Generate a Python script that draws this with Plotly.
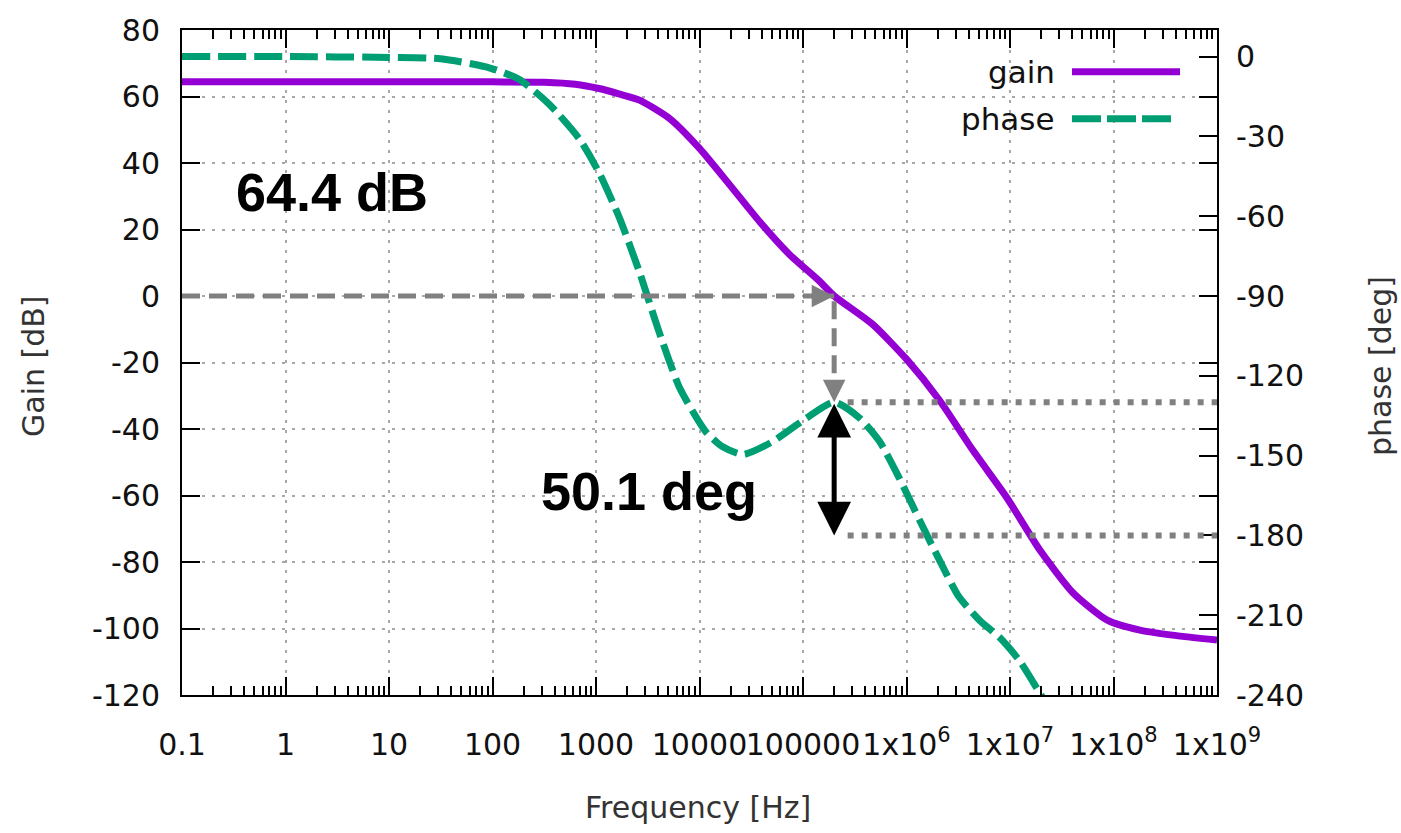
import math
import plotly.graph_objects as go

# ---- open-loop response of the amplifier ----
gain_freq = [0.1, 1, 10, 100, 316, 631, 1070, 1660, 2630, 5130, 1.0e4, 1.95e4,
             3.8e4, 7.4e4, 1.45e5, 2.0e5, 4.7e5, 1.0e6, 2.1e6, 4.4e6, 9.3e6,
             1.95e7, 4.1e7, 8.7e7, 1.8e8, 3.7e8, 1.0e9]
gain_db = [64.4, 64.4, 64.4, 64.4, 64.3, 63.7, 62.4, 60.8, 58.9, 53.4, 44.4, 33.5,
           22.4, 12.5, 4.4, 0.0, -8.5, -19.0, -31.5, -46.5, -60.6,
           -76.5, -89.4, -97.5, -100.5, -102.0, -103.5]

phase_freq = [0.1, 1, 10, 31.6, 93, 182, 355, 692, 1070, 1700, 2630, 4070, 6460,
              1.15e4, 1.66e4, 2.63e4, 5.1e4, 1.07e5, 2.0e5, 3.55e5, 5.5e5, 8.5e5,
              1.35e6, 2.1e6, 3.2e6, 5.1e6, 7.9e6, 1.23e7, 1.95e7, 2.5e7]
phase_deg = [0.0, 0.0, -0.3, -0.8, -4.2, -8.6, -18.0, -31.0, -43.6, -61.0, -81.0,
             -103.5, -124.7, -141.0, -146.6, -149.6, -144.7, -136.0, -129.9, -136.0,
             -144.7, -158.4, -174.6, -189.6, -203.0, -212.0, -218.3, -227.0, -239.4,
             -246.0]

# key figures
DC_GAIN = 64.4          # dB
UNITY_FREQ = 2.0e5      # Hz, where gain crosses 0 dB
PHASE_MARGIN = 50.1     # deg
PHASE_AT_UNITY = -180 + PHASE_MARGIN

# tick labels
x_ticks = [0.1, 1, 10, 100, 1e3, 1e4, 1e5, 1e6, 1e7, 1e8, 1e9]
x_tick_text = ["0.1", "1", "10", "100", "1000", "10000", "100000",
               "1x10<sup>6</sup>", "1x10<sup>7</sup>", "1x10<sup>8</sup>", "1x10<sup>9</sup>"]
gain_ticks = list(range(-120, 81, 20))
gain_tick_text = [str(v) for v in gain_ticks]
phase_ticks = list(range(-240, 1, 30))
phase_tick_text = [str(v) for v in phase_ticks]

G_LO, G_HI = -120, 80
P_LO, P_HI = -240, 10


def gain_to_phase_axis(g):
    return P_LO + (g - G_LO) * (P_HI - P_LO) / (G_HI - G_LO)


PURPLE = "#9400D3"
GREEN = "#009E73"
GRAY = "#808080"
FONT = "DejaVu Sans"

fig = go.Figure()
fig.add_trace(go.Scatter(x=gain_freq, y=gain_db, mode="lines", name="gain",
                         line=dict(color=PURPLE, width=7, shape="spline", smoothing=0.6),
                         showlegend=False))
fig.add_trace(go.Scatter(x=phase_freq, y=phase_deg, mode="lines", name="phase", yaxis="y2",
                         line=dict(color=GREEN, width=7, dash="28px,8px", shape="spline",
                                   smoothing=0.6),
                         showlegend=False))

minor_vals = [k * 10 ** e for e in range(-1, 9) for k in range(2, 10)]

fig.update_layout(
    width=1401, height=833,
    margin=dict(l=182, r=184, t=28, b=138),
    paper_bgcolor="white", plot_bgcolor="white",
    font=dict(family=FONT, size=30, color="#111"),
    xaxis=dict(type="log", range=[-1, 9], tickmode="array", tickvals=x_ticks,
               ticktext=x_tick_text, tickangle=0, ticks="inside", ticklen=18, tickwidth=2,
               tickcolor="black", showline=True, linecolor="black", linewidth=2,
               mirror="ticks", showgrid=True, gridcolor="#a8a8a8", gridwidth=1.5,
               griddash="3px,7px", ticklabelstandoff=22, zeroline=False,
               minor=dict(tickmode="array", tickvals=minor_vals, ticks="inside",
                          ticklen=9, tickwidth=2, tickcolor="black", showgrid=False)),
    yaxis=dict(range=[G_LO, G_HI], tickmode="array", tickvals=gain_ticks,
               ticktext=gain_tick_text,
               ticks="inside", ticklen=18, tickwidth=2, tickcolor="black",
               showline=True, linecolor="black", linewidth=2, mirror="ticks",
               showgrid=True, gridcolor="#a8a8a8", gridwidth=1.5, griddash="3px,7px",
               zeroline=False, ticklabelstandoff=14),
    yaxis2=dict(range=[P_LO, P_HI], overlaying="y", side="right", tickmode="array",
                tickvals=phase_ticks, ticktext=phase_tick_text, ticks="inside",
                ticklen=18, tickwidth=2, tickcolor="black", showgrid=False,
                zeroline=False, ticklabelstandoff=18),
)

xc = math.log10(UNITY_FREQ)
y0_on_phase = gain_to_phase_axis(0)

shapes = [
    # 0 dB crossing guide
    dict(type="line", xref="x", yref="y", x0=0.1, x1=UNITY_FREQ, y0=0, y1=0,
         line=dict(color=GRAY, width=5, dash="18px,9px")),
    dict(type="line", xref="x", yref="y2", x0=UNITY_FREQ, x1=UNITY_FREQ,
         y0=y0_on_phase - 2, y1=PHASE_AT_UNITY + 4,
         line=dict(color=GRAY, width=5, dash="18px,9px")),
    # phase reference lines
    dict(type="line", xref="x", yref="y2", x0=UNITY_FREQ * 1.35, x1=1e9,
         y0=PHASE_AT_UNITY, y1=PHASE_AT_UNITY,
         line=dict(color=GRAY, width=6, dash="6px,8px")),
    dict(type="line", xref="x", yref="y2", x0=UNITY_FREQ * 1.35, x1=1e9,
         y0=-180, y1=-180, line=dict(color=GRAY, width=6, dash="6px,8px")),
    # key samples
    dict(type="line", xref="paper", yref="paper",
         x0=(1072 - 182) / 1035, x1=(1180 - 182) / 1035,
         y0=1 - (70 - 28) / 667, y1=1 - (70 - 28) / 667,
         line=dict(color=PURPLE, width=7)),
    dict(type="line", xref="paper", yref="paper",
         x0=(1072 - 182) / 1035, x1=(1172 - 182) / 1035,
         y0=1 - (117 - 28) / 667, y1=1 - (117 - 28) / 667,
         line=dict(color=GREEN, width=7, dash="29px,6px")),
]
fig.update_layout(shapes=shapes)

annotations = [
    # arrowheads of the guide lines
    dict(x=xc, y=0, xref="x", yref="y", ax=-14, ay=0, text="", showarrow=True,
         arrowhead=2, arrowsize=0.9, arrowwidth=5, arrowcolor=GRAY),
    dict(x=xc, y=PHASE_AT_UNITY, xref="x", yref="y2", ax=0, ay=-14, text="",
         showarrow=True, arrowhead=2, arrowsize=0.9, arrowwidth=5, arrowcolor=GRAY),
    # phase margin double arrow
    dict(x=xc, y=-180, xref="x", yref="y2", ax=xc, ay=PHASE_AT_UNITY, axref="x",
         ayref="y2", text="", showarrow=True, arrowhead=2, arrowside="end+start",
         arrowsize=1.35, arrowwidth=5, arrowcolor="black"),
    dict(x=(332 - 182) / 1035, y=1 - (190 - 28) / 667, xref="paper", yref="paper",
         text=f"<b>{DC_GAIN} dB</b>", showarrow=False, xanchor="center", yanchor="middle",
         font=dict(family="Liberation Sans", size=54, color="black")),
    dict(x=(649 - 182) / 1035, y=1 - (490 - 28) / 667, xref="paper", yref="paper",
         text=f"<b>{PHASE_MARGIN} deg</b>", showarrow=False, xanchor="center",
         yanchor="middle", font=dict(family="Liberation Sans", size=54, color="black")),
    # key labels
    dict(x=(1057 - 182) / 1035, y=1 - (70 - 28) / 667, xref="paper", yref="paper",
         text="gain", showarrow=False, xanchor="right", yanchor="middle",
         font=dict(size=31)),
    dict(x=(1057 - 182) / 1035, y=1 - (117 - 28) / 667, xref="paper", yref="paper",
         text="phase", showarrow=False, xanchor="right", yanchor="middle",
         font=dict(size=31)),
    # axis titles
    dict(x=(34 - 182) / 1035, y=1 - (365 - 28) / 667, xref="paper", yref="paper",
         text="Gain [dB]", textangle=-90, showarrow=False, xanchor="center",
         yanchor="middle", font=dict(color="#333")),
    dict(x=(1381 - 182) / 1035, y=1 - (365 - 28) / 667, xref="paper", yref="paper",
         text="phase [deg]", textangle=-90, showarrow=False, xanchor="center",
         yanchor="middle", font=dict(color="#333")),
    dict(x=(698 - 182) / 1035, y=1 - (808 - 28) / 667, xref="paper", yref="paper",
         text="Frequency [Hz]", showarrow=False, xanchor="center", yanchor="middle",
         font=dict(color="#333")),
]
fig.update_layout(annotations=annotations)

fig.write_html("out.html")
